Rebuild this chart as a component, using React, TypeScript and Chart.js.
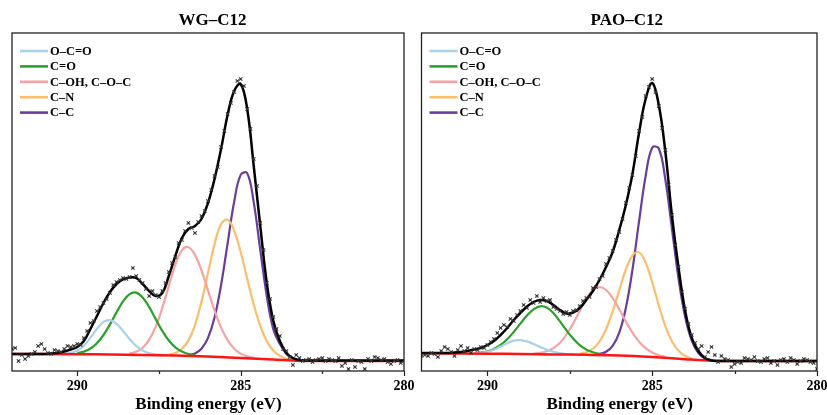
import React, { useEffect, useRef } from "react";
import { Chart, registerables } from "chart.js";
Chart.register(...registerables);

const FONT = "'Liberation Serif', 'Times New Roman', Times, serif";

// Binding energy grids (eV)
const energyGrid = [
  292.0, 291.8, 291.6, 291.4, 291.2, 291.0, 290.8, 290.6, 290.4, 290.2,
  290.0, 289.8, 289.6, 289.4, 289.2, 289.0, 288.8, 288.6, 288.4, 288.2,
  288.0, 287.8, 287.6, 287.4, 287.2, 287.0, 286.8, 286.6, 286.4, 286.2,
  286.0, 285.8, 285.6, 285.4, 285.2, 285.0, 284.8, 284.6, 284.4, 284.2,
  284.0, 283.8, 283.6, 283.4, 283.2, 283.0, 282.8, 282.6, 282.4, 282.2,
  282.0, 281.8, 281.6, 281.4, 281.2, 281.0, 280.8, 280.6, 280.4, 280.2,
  280.0,
];
const energyFine = [
  292.0, 291.9, 291.8, 291.7, 291.6, 291.5, 291.4, 291.3, 291.2, 291.1,
  291.0, 290.9, 290.8, 290.7, 290.6, 290.5, 290.4, 290.3, 290.2, 290.1,
  290.0, 289.9, 289.8, 289.7, 289.6, 289.5, 289.4, 289.3, 289.2, 289.1,
  289.0, 288.9, 288.8, 288.7, 288.6, 288.5, 288.4, 288.3, 288.2, 288.1,
  288.0, 287.9, 287.8, 287.7, 287.6, 287.5, 287.4, 287.3, 287.2, 287.1,
  287.0, 286.9, 286.8, 286.7, 286.6, 286.5, 286.4, 286.3, 286.2, 286.1,
  286.0, 285.9, 285.8, 285.7, 285.6, 285.5, 285.4, 285.3, 285.2, 285.1,
  285.0, 284.9, 284.8, 284.7, 284.6, 284.5, 284.4, 284.3, 284.2, 284.1,
  284.0, 283.9, 283.8, 283.7, 283.6, 283.5, 283.4, 283.3, 283.2, 283.1,
  283.0, 282.9, 282.8, 282.7, 282.6, 282.5, 282.4, 282.3, 282.2, 282.1,
  282.0, 281.9, 281.8, 281.7, 281.6, 281.5, 281.4, 281.3, 281.2, 281.1,
  281.0, 280.9, 280.8, 280.7, 280.6, 280.5, 280.4, 280.3, 280.2, 280.1,
  280.0,
];
const baselineEnergy = [292, 290, 289, 288, 287, 286, 285, 284, 283.2, 282, 280];

const tickValues = [290, 285, 280];
const minorTickValues = [287.5, 282.5];
const xAxisTitle = "Binding energy (eV)";
const legendLabels = ["O\u2013C=O", "C=O", "C\u2013OH, C\u2013O\u2013C", "C\u2013N", "C\u2013C"];
const componentColors = ["#a9d1ea", "#2ca02c", "#f7a3a3", "#fdbd6d", "#6a3d9a"];

// ---------- WG-C12 ----------
const wgEnvelope = [
  17, 17, 17, 17, 17, 17, 17.5, 18, 19.5, 21.5,
  24, 30, 42, 55, 68, 79, 87, 91.5, 93.5, 93,
  87, 80, 75, 78, 95, 115, 133, 142, 145, 152,
  168, 192, 222, 256, 280, 287, 262, 205, 145, 88,
  50, 30, 18, 13, 11, 10.5, 10.5, 10.5, 10.5, 10.5,
  10.5, 10.5, 10.5, 10.5, 10.5, 10.5, 10.5, 10.5, 10.5, 10.5,
  10.5,
];
const wgRaw = [
  22, 23, 10, 16, 12, 15, 17, 19, 25, 27,
  22, 18, 17, 21, 20, 19, 22, 25, 24, 25,
  27, 26, 33, 40, 48, 50, 60, 64, 68, 72,
  78, 86, 89, 91, 93, 92, 94, 103, 95, 91,
  88, 82, 75, 80, 76, 74, 80, 88, 99, 108,
  114, 128, 131, 140, 148, 143, 138, 149, 155, 160,
  170, 181, 195, 204, 224, 240, 257, 268, 279, 290,
  292, 285, 262, 242, 212, 185, 148, 121, 88, 72,
  54, 42, 35, 22, 20, 14, 6, 16, 13, 10,
  11, 12, 9, 11, 12, 13, 10, 12, 11, 10,
  13, 5, 8, 2, 11, 4, 10, 9, 2, 12,
  10, 14, 13, 11, 12, 9, 7, 10, 11, 8,
  10,
];
const wgBaseline = [17, 16.8, 16.5, 16.0, 15.5, 14.5, 13.0, 11.5, 10.2, 10, 10];
const wgOCOStart = 290.4;
const wgOCO = [17.3, 18.1, 20.5, 25.3, 33.1, 42.1, 49.2, 50.8, 47.1, 40.0, 32.0, 25.2, 20.5, 17.8, 16.5, 15.9];
const wgCOStart = 290.0;
const wgCO = [18.0, 19.4, 22.5, 27.8, 36.0, 46.6, 58.6, 69.6, 76.9, 78.4, 73.6, 63.9, 51.9, 40.1, 30.5, 23.6, 19.4, 17.0, 15.7];
const wgCOHStart = 288.4;
const wgCOH = [17.4, 19.2, 23.2, 31.3, 44.3, 63.0, 85.1, 106.4, 120.7, 123.8, 116.3, 100.6, 80.7, 60.5, 43.4, 30.8, 22.3, 17.4, 14.6, 13.2];
const wgCNStart = 287.2;
const wgCN = [16.4, 18.1, 22.2, 30.6, 45.9, 69.4, 98.3, 126.9, 146.8, 151.2, 140.5, 119.0, 92.3, 66.4, 45.1, 29.7, 20.5, 15.1, 12.4, 11.0];
const wgCCStart = 286.6;
const wgCC = [15.9, 17.6, 22.3, 33.1, 53.5, 85.9, 127.7, 169.0, 196.1, 197.9, 168.6, 121.1, 74.8, 41.6, 27, 17, 12.5, 10.5];

// ---------- PAO-C12 ----------
const paoEnvelope = [
  18, 18, 18, 18, 18, 18.5, 19, 20, 21.5, 23,
  26, 30, 36, 43, 51, 58, 64.5, 69, 71, 70,
  66, 61, 57.5, 58.5, 63, 71, 80, 91, 104, 119,
  141, 166, 197, 238, 272, 288, 266, 219, 155, 103,
  60, 33, 20, 13, 10.5, 10, 10, 10, 10, 10,
  10, 10, 10, 10, 10, 10, 10, 10, 10, 10,
  10,
];
const paoRaw = [
  15, 16, 15, 18, 17, 14, 20, 24, 22, 19,
  15, 21, 25, 20, 23, 18, 22, 21, 24, 23,
  26, 29, 32, 38, 43, 46, 44, 52, 50, 56,
  60, 66, 63, 71, 68, 75, 69, 73, 70, 71,
  64, 62, 60, 57, 59, 56, 60, 61, 65, 70,
  73, 74, 83, 84, 92, 95, 107, 113, 120, 131,
  139, 152, 168, 183, 196, 215, 240, 254, 275, 284,
  292, 279, 265, 243, 221, 186, 156, 126, 104, 79,
  62, 47, 36, 28, 22, 25, 14, 19, 24, 16,
  9, 15, 12, 11, 4, 7, 9, 8, 13, 12,
  11, 14, 10, 9, 12, 13, 8, 10, 6, 11,
  12, 9, 13, 11, 7, 10, 12, 11, 9, 8,
  2,
];
const paoBaseline = [17.7, 17.3, 17.0, 16.6, 16.2, 15.6, 14.0, 11.8, 10.3, 10, 10];
const paoOCOStart = 290.4;
const paoOCO = [17.7, 18.1, 19.3, 21.3, 24.5, 27.8, 30.4, 30.9, 29.6, 27.0, 24.1, 21.3, 19.2, 17.8, 17.0, 16.6];
const paoCOStart = 290.4;
const paoCO = [17.9, 18.5, 19.8, 22.1, 26.0, 31.7, 39.1, 47.4, 55.4, 61.7, 64.7, 63.4, 57.9, 49.7, 40.6, 32.4, 25.8, 21.4, 18.7, 17.2, 16.4];
const paoCOHStart = 288.6;
const paoCOH = [17.3, 18.1, 19.7, 22.8, 28.2, 36.5, 47.5, 60.1, 72.2, 80.8, 84.0, 81.0, 73.0, 61.7, 49.5, 38.3, 29.3, 22.8, 18.5, 15.8, 14.1];
const paoCNStart = 287.2;
const paoCN = [17.2, 18.8, 22.3, 29.5, 41.8, 59.6, 80.9, 101.5, 115.7, 118.6, 108.4, 88.7, 65.6, 44.7, 29.6, 20.2, 15.0, 12.4];
const paoCCStart = 286.6;
const paoCC = [17.1, 19.2, 25.1, 38.4, 63.1, 101.2, 149.3, 194.9, 223.3, 222.5, 191.1, 142.0, 92.2, 54.0, 30.3, 18.0, 12.7, 10.7];

function zip(xs: number[], ys: number[]) {
  return ys.map((y, i) => ({ x: xs[i], y }));
}
function fromStart(start: number, values: number[]) {
  const i0 = energyGrid.indexOf(start);
  return values.map((v, i) => ({ x: energyGrid[i0 + i], y: v }));
}

function makeDecor(title: string, titleShift: number) {
  return {
    id: "decor",
    afterDraw(chart: any) {
      const { ctx, chartArea: a, scales } = chart;
      const x = scales.x;
      ctx.save();
      // frame
      ctx.strokeStyle = "#222";
      ctx.lineWidth = 1.3;
      ctx.strokeRect(a.left, a.top, a.right - a.left, a.bottom - a.top);
      // tick marks
      ctx.lineWidth = 1.2;
      tickValues.forEach((v) => {
        const px = Math.round(x.getPixelForValue(v)) + 0.5;
        ctx.beginPath();
        ctx.moveTo(px, a.bottom);
        ctx.lineTo(px, a.bottom + 5);
        ctx.stroke();
      });
      minorTickValues.forEach((v) => {
        const px = Math.round(x.getPixelForValue(v)) + 0.5;
        ctx.beginPath();
        ctx.moveTo(px, a.bottom);
        ctx.lineTo(px, a.bottom + 3);
        ctx.stroke();
      });
      // legend
      ctx.font = `bold 12.5px ${FONT}`;
      ctx.textBaseline = "middle";
      ctx.textAlign = "left";
      legendLabels.forEach((lab, i) => {
        const y = a.top + 18 + i * 15.4;
        ctx.strokeStyle = componentColors[i];
        ctx.lineWidth = 2.6;
        ctx.beginPath();
        ctx.moveTo(a.left + 8, y);
        ctx.lineTo(a.left + 36, y);
        ctx.stroke();
        ctx.fillStyle = "#000";
        ctx.fillText(lab, a.left + 38, y + 0.5);
      });
      // chart title
      ctx.font = `bold 17px ${FONT}`;
      ctx.textAlign = "center";
      ctx.fillStyle = "#000";
      ctx.fillText(title, (a.left + a.right) / 2 + titleShift, 20.5);
      // x axis title
      ctx.fillText(xAxisTitle, (a.left + a.right) / 2 + 0.5, 404.5);
      ctx.restore();
    },
  };
}

type PanelProps = {
  left: number;
  width: number;
  padLeft: number;
  padRight: number;
  title: string;
  titleShift: number;
  envelope: number[];
  raw: number[];
  baseline: number[];
  comps: { x: number; y: number }[][];
};

function Panel(p: PanelProps) {
  const ref = useRef<HTMLCanvasElement>(null);
  useEffect(() => {
    const compSets = p.comps.map((d, i) => ({
      label: legendLabels[i],
      data: d,
      borderColor: componentColors[i],
      borderWidth: 2.2,
      pointRadius: 0,
      tension: 0.4,
      fill: false,
      order: 3 + i,
    }));
    const chart = new Chart(ref.current as HTMLCanvasElement, {
      type: "line",
      data: {
        datasets: [
          {
            label: "Raw",
            data: zip(energyFine, p.raw),
            showLine: false,
            pointStyle: "crossRot",
            pointRadius: 2.4,
            pointBorderWidth: 1.1,
            pointBorderColor: "#333",
            pointBackgroundColor: "#333",
            order: 0,
          } as any,
          {
            label: "Envelope",
            data: zip(energyGrid, p.envelope),
            borderColor: "#000",
            borderWidth: 2.5,
            pointRadius: 0,
            tension: 0.4,
            fill: false,
            order: 1,
          },
          {
            label: "Background",
            data: zip(baselineEnergy, p.baseline),
            borderColor: "#ff1414",
            borderWidth: 2.5,
            pointRadius: 0,
            tension: 0.3,
            fill: false,
            order: 2,
          },
          ...compSets,
        ],
      },
      options: {
        animation: false,
        responsive: false,
        maintainAspectRatio: false,
        layout: { padding: { left: p.padLeft, right: p.padRight, top: 33, bottom: 12.6 } },
        plugins: {
          legend: { display: false },
          title: { display: false },
          tooltip: { enabled: false },
        },
        scales: {
          x: {
            type: "linear",
            min: 280,
            max: 292,
            reverse: true,
            afterBuildTicks: (s: any) => {
              s.ticks = tickValues.map((v) => ({ value: v }));
            },
            grid: { display: false, drawTicks: false },
            border: { display: false },
            ticks: {
              padding: 7.3,
              color: "#000",
              autoSkip: false,
              maxRotation: 0,
              font: { family: FONT, size: 14, weight: "bold" },
              callback: (v: any) => String(v),
            },
            title: { display: false },
          },
          y: { display: false, min: 0, max: 338 },
        },
      } as any,
      plugins: [makeDecor(p.title, p.titleShift)],
    });
    return () => chart.destroy();
  }, []);
  return (
    <canvas
      ref={ref}
      width={p.width}
      height={415}
      style={{ position: "absolute", left: p.left, top: 0, width: p.width, height: 415 }}
    />
  );
}

export default function App() {
  return (
    <div style={{ position: "absolute", left: 0, top: 0, width: 827, height: 415, background: "#fff", overflow: "hidden" }}>
      <Panel
        left={0}
        width={430}
        padLeft={12}
        padRight={26}
        title={"WG\u2013C12"}
        titleShift={4.5}
        envelope={wgEnvelope}
        raw={wgRaw}
        baseline={wgBaseline}
        comps={[
          fromStart(wgOCOStart, wgOCO),
          fromStart(wgCOStart, wgCO),
          fromStart(wgCOHStart, wgCOH),
          fromStart(wgCNStart, wgCN),
          fromStart(wgCCStart, wgCC),
        ]}
      />
      <Panel
        left={400}
        width={444}
        padLeft={21.5}
        padRight={27}
        title={"PAO\u2013C12"}
        titleShift={7.5}
        envelope={paoEnvelope}
        raw={paoRaw}
        baseline={paoBaseline}
        comps={[
          fromStart(paoOCOStart, paoOCO),
          fromStart(paoCOStart, paoCO),
          fromStart(paoCOHStart, paoCOH),
          fromStart(paoCNStart, paoCN),
          fromStart(paoCCStart, paoCC),
        ]}
      />
    </div>
  );
}
